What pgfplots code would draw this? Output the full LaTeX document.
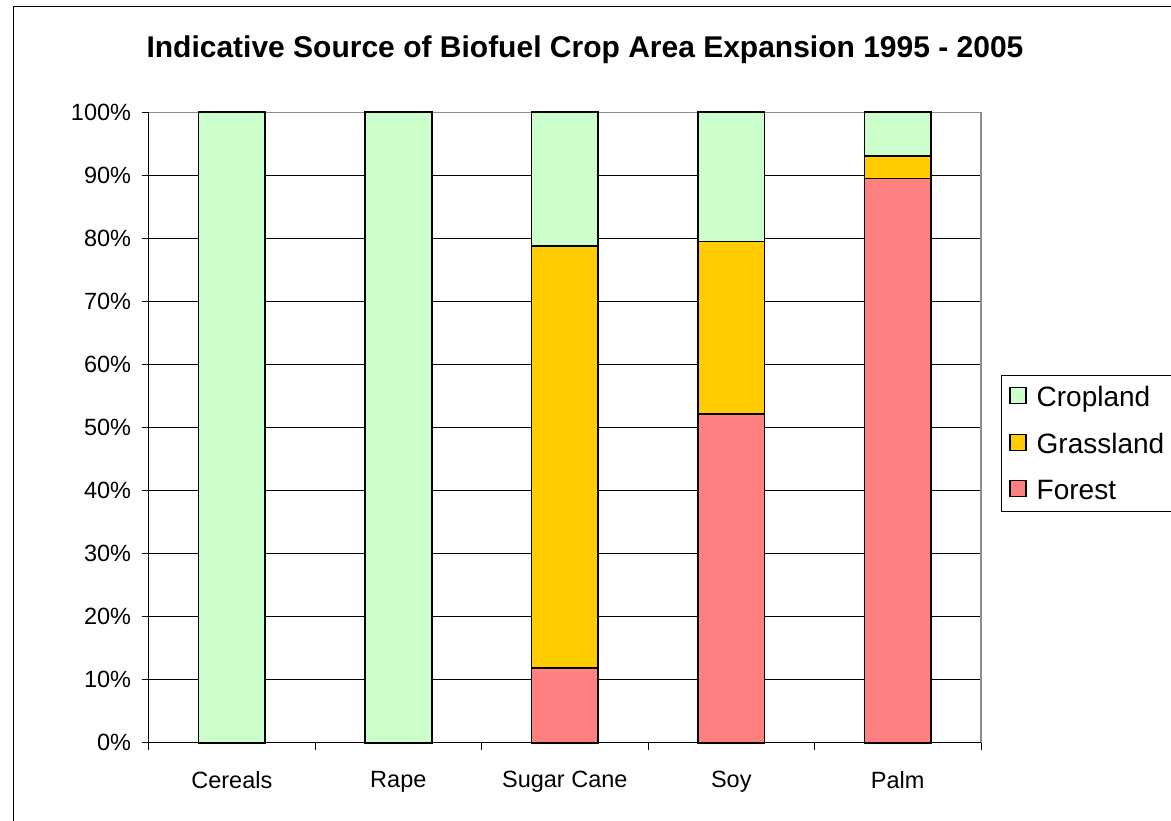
\documentclass[border=0pt]{standalone}
\usepackage{fontspec}
\setmainfont{Liberation Sans}
\usepackage{pgfplots}
\pgfplotsset{compat=1.18}
\definecolor{crop}{HTML}{CCFFCC}
\definecolor{grass}{HTML}{FFCC00}
\definecolor{forest}{HTML}{FF8080}
\begin{document}
\begin{tikzpicture}[x=1pt,y=1pt]
\useasboundingbox (0,0) rectangle (1171,820);
\fill[white] (0,0) rectangle (1171,820);
\draw[black, line width=1pt] (13,-5) -- (13,813) -- (1180,813);
\node[font=\fontsize{30}{36}\selectfont\bfseries] at (585,770) {Indicative Source of Biofuel Crop Area Expansion 1995 - 2005};
\begin{axis}[
  at={(148.6pt,77.3pt)}, anchor=south west,
  scale only axis, width=832.4pt, height=630.4pt,
  clip=false,
  ybar stacked, bar width=0.4,
  xmin=0.5, xmax=5.5, ymin=0, ymax=100,
  xtick={1,2,3,4,5},
  xticklabels={Cereals,Rape,Sugar Cane,Soy,Palm},
  minor xtick={0.5,1.5,2.5,3.5,4.5,5.5},
  ytick={0,10,...,100},
  yticklabel={\pgfmathprintnumber{\tick}\%},
  /pgf/number format/assume math mode=true,
  tick label style={font=\fontsize{23.5}{28}\selectfont},
  xticklabel style={yshift=-18pt},
  yticklabel style={xshift=-7pt},
  major x tick style={draw=none},
  minor x tick style={draw=black, line width=0.8pt},
  minor tick length=7pt,
  major tick length=7pt,
  tick align=outside,
  ytick style={draw=black, line width=0.8pt},
  xtick pos=bottom, ytick pos=left,
  ymajorgrids, grid style={black, line width=0.8pt},
  axis line style={draw=gray!90, line width=1.2pt},
  legend style={at={(1.024,0.5833)}, anchor=north west, draw=black, line width=1pt,
    font=\fontsize{28}{34}\selectfont, inner xsep=8pt, inner ysep=9pt, row sep=21pt,
    cells={anchor=west, text width=150pt},
    /tikz/every odd column/.style={column sep=8pt}},
  legend cell align=left,
  reverse legend,
  legend image code/.code={\draw[#1, line width=1.2pt] (0pt,-6pt) rectangle (16pt,10pt);},
]
\addplot[fill=forest, draw=black, line width=1.8pt] coordinates {(1,0) (2,0) (3,11.9) (4,52.2) (5,89.5)};
\addplot[fill=grass, draw=black, line width=1.8pt] coordinates {(1,0) (2,0) (3,66.9) (4,27.3) (5,3.6)};
\addplot[fill=crop, draw=black, line width=1.8pt] coordinates {(1,100) (2,100) (3,21.2) (4,20.5) (5,6.9)};
\legend{Forest,Grassland,Cropland}
\draw[black, line width=1.2pt] (rel axis cs:0,1) -- (rel axis cs:0,0) -- (rel axis cs:1,0);
\end{axis}
\end{tikzpicture}
\end{document}
